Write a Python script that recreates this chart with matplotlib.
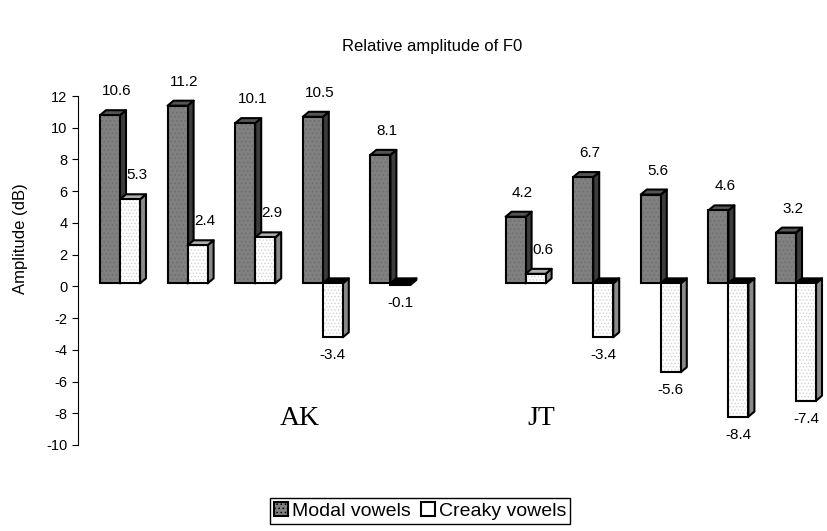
import matplotlib
matplotlib.use("Agg")
import matplotlib.pyplot as plt
import matplotlib.transforms as mtransforms
from matplotlib.patches import Polygon, Patch
import numpy as np

# data
speakers = ["AK", "JT"]
vowels_per_speaker = 5
modal = [10.6, 11.2, 10.1, 10.5, 8.1, 4.2, 6.7, 5.6, 4.6, 3.2]
creaky = [5.3, 2.4, 2.9, -3.4, -0.1, 0.6, -3.4, -5.6, -8.4, -7.4]
series_labels = ["Modal vowels", "Creaky vowels"]
yticks = list(range(-10, 13, 2))

plt.rcParams["font.family"] = ["Liberation Sans", "DejaVu Sans"]
plt.rcParams["axes.unicode_minus"] = False
plt.rcParams["hatch.linewidth"] = 0.6

W, H = 827, 531
fig = plt.figure(figsize=(W / 100, H / 100), dpi=100)
ax = fig.add_axes([78 / W, 86 / H, 749 / W, 349 / H])

slot_px = 67.6
unit_px = 349 / 22
ax.set_xlim(-42 / slot_px, -42 / slot_px + 749 / slot_px)
ax.set_ylim(-10, 12)

# one empty slot between the speakers
x = np.arange(len(modal)) + np.repeat(np.arange(len(speakers)), vowels_per_speaker)
w = 20 / slot_px
dx, dy = 6 / slot_px, 5 / unit_px

# Excel draws the front faces a few pixels above the wall axis
shift = ax.transData + mtransforms.ScaledTranslation(0, 3 / 100, fig.dpi_scale_trans)

MODAL_FRONT, MODAL_SIDE, MODAL_TOP = "#808080", "#3c3c3c", "#555555"
CREAKY_FRONT, CREAKY_SIDE = "#ffffff", "#8a8a8a"


def draw_faces(x0, value, side_color, top_color):
    x1 = x0 + w
    lo, hi = min(0, value), max(0, value)
    side = [(x1, lo), (x1 + dx, lo + dy), (x1 + dx, hi + dy), (x1, hi)]
    top = [(x0, hi), (x0 + dx, hi + dy), (x1 + dx, hi + dy), (x1, hi)]
    for verts, color in ((side, side_color), (top, top_color)):
        ax.add_patch(Polygon(verts, closed=True, facecolor=color, edgecolor="black",
                             linewidth=1.5, joinstyle="round", transform=shift))


for i, xi in enumerate(x):
    draw_faces(xi - w, modal[i], MODAL_SIDE, MODAL_TOP)
    ax.bar(xi - w, modal[i], w, align="edge", color=MODAL_FRONT, hatch="....",
           edgecolor="#6e6e6e", linewidth=0, transform=shift)
    ax.bar(xi - w, modal[i], w, align="edge", fill=False, edgecolor="black",
           linewidth=1.5, transform=shift)
    top_color = "#b0b0b0" if creaky[i] > 0 else "black"
    draw_faces(xi, creaky[i], CREAKY_SIDE, top_color)
    ax.bar(xi, creaky[i], w, align="edge", color=CREAKY_FRONT, hatch=".....",
           edgecolor="#d2d2d2", linewidth=0, transform=shift)
    ax.bar(xi, creaky[i], w, align="edge", fill=False, edgecolor="black",
           linewidth=1.5, transform=shift)

for values, offset in ((modal, -w / 2), (creaky, w / 2)):
    for xi, v in zip(x, values):
        if v >= 0:
            ax.annotate(f"{v:.1f}", (xi + offset, v), xytext=(7, 24), textcoords="offset pixels",
                        ha="center", va="center", fontsize=11, xycoords=shift)
        else:
            ax.annotate(f"{v:.1f}", (xi + offset, v), xytext=(0, -18), textcoords="offset pixels",
                        ha="center", va="center", fontsize=11, xycoords=shift)

# speaker names sit at different places inside each group in the original
name_offsets = [2.66, 0.23]
for k, name in enumerate(speakers):
    first = x[k * vowels_per_speaker]
    ax.text(first + name_offsets[k], -8.33, name, ha="center", va="center",
            family=["Liberation Serif", "DejaVu Serif"], fontsize=20)

ax.set_yticks(yticks)
ax.tick_params(axis="y", labelsize=10.5, length=4, width=0.8, direction="out")
ax.set_xticks([])
for side in ("top", "right", "bottom"):
    ax.spines[side].set_visible(False)
ax.spines["left"].set_linewidth(0.8)
ax.set_ylabel("Amplitude (dB)", fontsize=12)
ax.yaxis.set_label_coords(-50 / 749, 0.59)

fig.text(432 / W, 1 - 47 / H, "Relative amplitude of F0", ha="center", va="center", fontsize=12)

handles = [
    Patch(facecolor=MODAL_FRONT, edgecolor="black", linewidth=1.5, hatch="...."),
    Patch(facecolor=CREAKY_FRONT, edgecolor="black", linewidth=1.5),
]
leg = fig.legend(handles, series_labels, loc="center", bbox_to_anchor=(420 / W, 1 - 511 / H),
                 ncol=2, fontsize=14, frameon=True, fancybox=False, framealpha=1,
                 edgecolor="black", borderpad=0.2, handlelength=0.75, handleheight=0.75,
                 handletextpad=0.2, columnspacing=0.5, borderaxespad=0)
leg.get_frame().set_linewidth(1.0)

fig.savefig("out.png", dpi=100)
